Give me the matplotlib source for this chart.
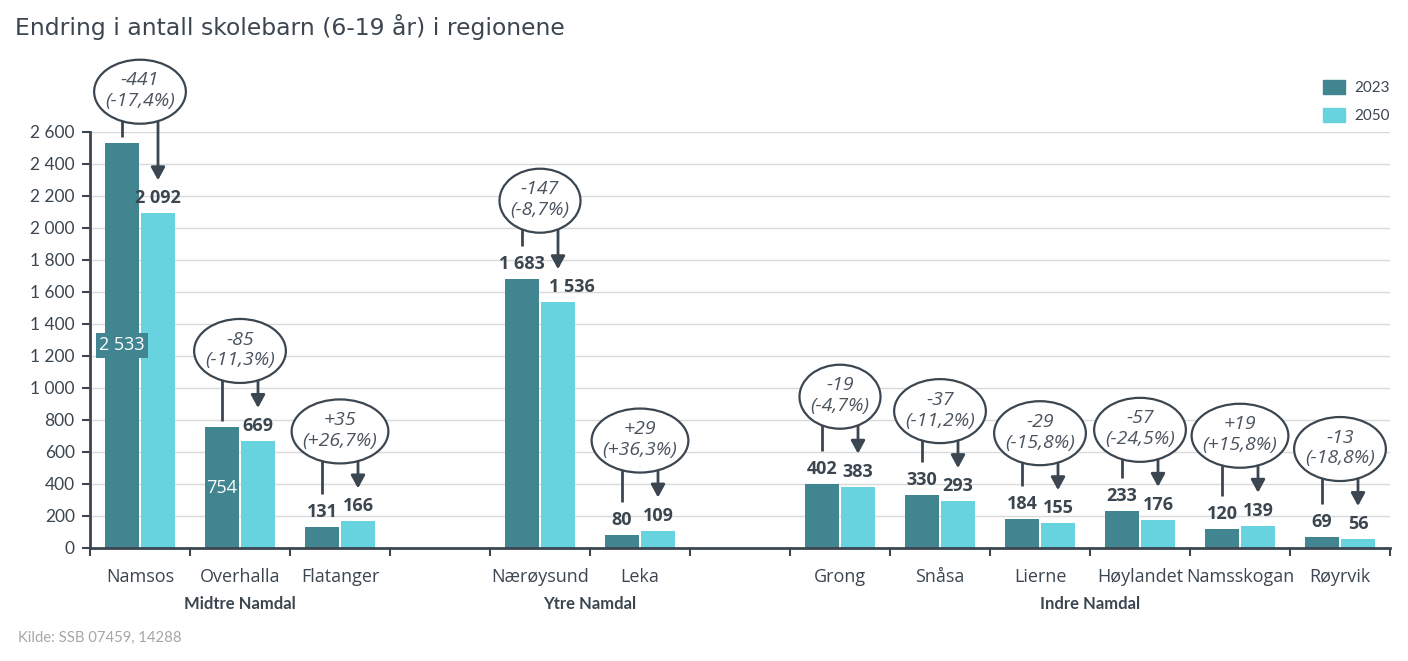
import matplotlib
matplotlib.use("Agg")
import matplotlib.pyplot as plt
from matplotlib.patches import Patch, Ellipse

# ---------------- data ----------------
groups = ["Midtre Namdal", "Ytre Namdal", "Indre Namdal"]
group_members = [
    ["Namsos", "Overhalla", "Flatanger"],
    ["Nærøysund", "Leka"],
    ["Grong", "Snåsa", "Lierne", "Høylandet", "Namsskogan", "Røyrvik"],
]
v2023 = [2533, 754, 131, 1683, 80, 402, 330, 184, 233, 120, 69]
v2050 = [2092, 669, 166, 1536, 109, 383, 293, 155, 176, 139, 56]
series_names = ["2023", "2050"]
inside_label = ["Namsos", "Overhalla"]
boxed_label = ["Namsos"]
shift_2050_label = {"Nærøysund": 14}
yticks = list(range(0, 2601, 200))

title = "Endring i antall skolebarn (6-19 år) i regionene"
source = "Kilde: SSB 07459, 14288"

# ---------------- style ----------------
C23 = "#40858f"
C50 = "#66d3df"
DARK = "#3b4650"
GRID = "#d9d9d9"

W, H = 1408, 661
fig = plt.figure(figsize=(W / 100, H / 100), dpi=100)
ax = fig.add_axes([90 / W, (H - 548) / H, 1300 / W, 416 / H])
renderer = fig.canvas.get_renderer()

# slot positions (gap slot between groups)
names, xs, group_centers = [], [], []
pos = 0
for gi, mem in enumerate(group_members):
    start = pos
    for m in mem:
        names.append(m)
        xs.append(pos)
        pos += 1
    group_centers.append((start + pos - 1) / 2)
    if gi < len(group_members) - 1:
        pos += 1
nslots = pos

bw = 0.34
off = 0.18
ax.set_xlim(-0.5, nslots - 0.5)
ax.set_ylim(0, 2600)
ax.set_axisbelow(True)

x23 = [x - off for x in xs]
x50 = [x + off for x in xs]
ax.bar(x23, v2023, width=bw, color=C23, zorder=2)
ax.bar(x50, v2050, width=bw, color=C50, zorder=2)

# axes styling
for s in ["top", "right"]:
    ax.spines[s].set_visible(False)
for s in ["left", "bottom"]:
    ax.spines[s].set_color(DARK)
    ax.spines[s].set_linewidth(2)
ax.set_yticks(yticks)
ax.set_yticklabels([f"{v:,}".replace(",", " ") for v in yticks],
                   fontfamily="Lato", fontsize=12.5, color=DARK)
ax.tick_params(axis="y", length=6, width=1.5, color=DARK, pad=5)
ax.yaxis.grid(True, color=GRID, lw=1)
ax.set_xticks(xs)
ax.set_xticklabels(names, fontfamily="Open Sans", fontsize=13, color=DARK)
ax.tick_params(axis="x", which="major", length=0, pad=14.5)
ax.set_xticks([i - 0.5 for i in range(nslots + 1)], minor=True)
ax.tick_params(axis="x", which="minor", length=6, width=1.5, color=DARK)

ppu = ax.bbox.height / 2600.0  # pixels per data unit
xpu = ax.bbox.width / nslots   # pixels per x unit


def px(p):
    return p / ppu


def fmt(v):
    return f"{v:,}".replace(",", " ")


for i, n in enumerate(names):
    a, b = v2023[i], v2050[i]
    # value labels
    if n in inside_label:
        bbox = dict(boxstyle="square,pad=0.2", fc=C23, ec="none") if n in boxed_label else None
        ax.text(x23[i], a / 2, fmt(a), ha="center", va="center",
                fontfamily="Open Sans", fontsize=13, color="white", zorder=4, bbox=bbox)
        line_bottom = a + px(6)
    else:
        ax.text(x23[i], a + px(15), fmt(a), ha="center", va="center",
                fontfamily="Open Sans", fontsize=13, fontweight="bold", color=DARK, zorder=4)
        line_bottom = a + px(33)
    dx = shift_2050_label.get(n, 0) / xpu
    ax.text(x50[i] + dx, b + px(15), fmt(b), ha="center", va="center",
            fontfamily="Open Sans", fontsize=13, fontweight="bold", color=DARK, zorder=4)
    tip = b + px(33)
    ell_bottom = max(line_bottom + px(13), tip + px(25))
    ell_center = ell_bottom + px(32)

    diff = b - a
    sign = "+" if diff > 0 else "-"
    p10 = (abs(diff) * 2000 + a) // (2 * a)  # percent*10, rounded half up
    txt = f"{sign}{abs(diff)}\n({sign}{p10 // 10},{p10 % 10}%)"

    ax.plot([x23[i], x23[i]], [line_bottom, ell_center], color=DARK, lw=2,
            zorder=3, clip_on=False, solid_capstyle="butt")
    ax.annotate("", xy=(x50[i], tip), xytext=(x50[i], ell_center),
                arrowprops=dict(arrowstyle="-|>,head_length=0.55,head_width=0.3",
                                color=DARK, lw=2, shrinkA=0, shrinkB=0,
                                mutation_scale=14),
                zorder=3, annotation_clip=False)
    t = ax.text(xs[i], ell_center + px(1), txt, ha="center", va="center", style="italic",
                fontfamily="Open Sans", fontsize=14, color="#4a545e", linespacing=1.2,
                zorder=6, clip_on=False)
    tw = t.get_window_extent(renderer).width
    ax.add_patch(Ellipse((xs[i], ell_center), (tw + 22) / xpu, px(64),
                         fc="white", ec=DARK, lw=1.6, zorder=5, clip_on=False))

# group labels
for g, gc in zip(groups, group_centers):
    fx = (90 + (gc + 0.5) * 100) / W
    fig.text(fx, 1 - 604 / H, g, ha="center", va="center", fontfamily="Lato",
             fontsize=12, fontweight="bold", color=DARK)

# title & source
fig.text(15 / W, 1 - 27 / H, title, ha="left", va="center", fontfamily="DejaVu Sans",
         fontsize=16.9, color=DARK)
fig.text(18 / W, 1 - 638 / H, source, ha="left", va="center", fontfamily="Lato",
         fontsize=10.7, color="#a6a6a6")

# legend
handles = [Patch(color=C23, label=series_names[0]), Patch(color=C50, label=series_names[1])]
leg = fig.legend(handles=handles, loc="upper left", bbox_to_anchor=(1323 / W, 1 - 80 / H),
                 frameon=False, borderpad=0, borderaxespad=0, handlelength=1.45,
                 handleheight=1.0, handletextpad=0.6, labelspacing=0.85,
                 prop=dict(family="Lato", size=11))
for t in leg.get_texts():
    t.set_color(DARK)

fig.savefig("out.png", dpi=100)
